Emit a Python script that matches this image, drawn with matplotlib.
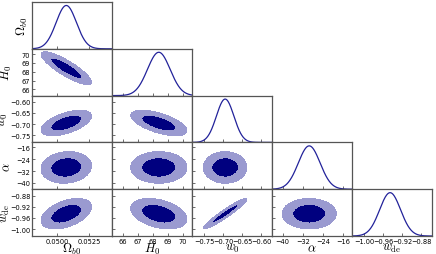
import numpy as np
import matplotlib
matplotlib.use("Agg")
import matplotlib.pyplot as plt

# ==========================================
# DATA (posterior summary)
# ==========================================

labels = [r"$\Omega_{b0}$", r"$H_0$", r"$w_0$", r"$\alpha$", r"$w_{\rm de}$"]
means = [0.0507, 68.4, -0.695, -29.5, -0.945]
sigmas = [0.0008, 0.75, 0.023, 4.3, 0.022]

# pairwise correlations, order: Ob0, H0, w0, alpha, wde
corr = [
    [1.00, -0.85, 0.55, 0.10, 0.45],
    [-0.85, 1.00, -0.60, 0.00, -0.35],
    [0.55, -0.60, 1.00, 0.00, 0.95],
    [0.10, 0.00, 0.00, 1.00, 0.00],
    [0.45, -0.35, 0.95, 0.00, 1.00],
]

ranges = [
    (0.0480, 0.0543),
    (65.3, 70.6),
    (-0.782, -0.572),
    (-44.2, -12.6),
    (-1.025, -0.857),
]

ticks = [
    [0.0500, 0.0525],
    [66, 67, 68, 69, 70],
    [-0.75, -0.70, -0.65, -0.60],
    [-40, -32, -24, -16],
    [-1.00, -0.96, -0.92, -0.88],
]
ticklabels = [
    ["0.0500", "0.0525"],
    ["66", "67", "68", "69", "70"],
    ["\u22120.75", "\u22120.70", "\u22120.65", "\u22120.60"],
    ["\u221240", "\u221232", "\u221224", "\u221216"],
    ["\u22121.00", "\u22120.96", "\u22120.92", "\u22120.88"],
]

# delta chi2 levels for 68% and 95% 2D regions
levels = [0.0, 2.30, 6.17]

inner_color = "#00007f"
outer_color = "#9a9ad0"
line_color = "#22229a"
spine_color = "#555555"

# right edge of each row's y label (axes fraction)
ylabel_x = [-0.03, -0.23, -0.28, -0.23, -0.25]

plt.rcParams["mathtext.fontset"] = "cm"

n = len(labels)
fig, axes = plt.subplots(n, n, figsize=(4.36, 2.55), dpi=100)
fig.subplots_adjust(left=32 / 436, right=432 / 436, top=1 - 3 / 255,
                    bottom=1 - 237 / 255, wspace=0, hspace=0)

for i in range(n):
    for j in range(n):
        ax = axes[i, j]
        if j > i:
            ax.axis("off")
            continue

        lo_x, hi_x = ranges[j]
        if i == j:
            x = np.linspace(lo_x, hi_x, 300)
            p = np.exp(-0.5 * ((x - means[j]) / sigmas[j]) ** 2)
            ax.plot(x, p, color=line_color, lw=0.9)
            ax.set_ylim(0, 1.08)
            ax.set_yticks([])
        else:
            lo_y, hi_y = ranges[i]
            xx, yy = np.meshgrid(np.linspace(lo_x, hi_x, 200),
                                 np.linspace(lo_y, hi_y, 200))
            dx = (xx - means[j]) / sigmas[j]
            dy = (yy - means[i]) / sigmas[i]
            r = corr[i][j]
            chi2 = (dx ** 2 - 2 * r * dx * dy + dy ** 2) / (1 - r ** 2)
            ax.contourf(xx, yy, chi2, levels=levels,
                        colors=[inner_color, outer_color])
            ax.set_ylim(lo_y, hi_y)
            ax.set_yticks(ticks[i])

        ax.set_xlim(lo_x, hi_x)
        ax.set_xticks(ticks[j])

        for s in ax.spines.values():
            s.set_color(spine_color)
            s.set_linewidth(0.9)
        ax.tick_params(direction="in", length=2.5, width=0.6,
                       color=spine_color, labelsize=4.8, pad=1.2)

        if i == n - 1:
            ax.set_xticklabels(ticklabels[j])
            ax.set_xlabel(labels[j], fontsize=9, labelpad=-2)
        else:
            ax.set_xticklabels([])

        if j == 0:
            if i > 0:
                ax.set_yticklabels(ticklabels[i])
            ax.set_ylabel(labels[i], fontsize=9)
            ax.yaxis.set_label_coords(ylabel_x[i], 0.5)
        else:
            ax.set_yticklabels([])

fig.savefig("out.png", dpi=100)
